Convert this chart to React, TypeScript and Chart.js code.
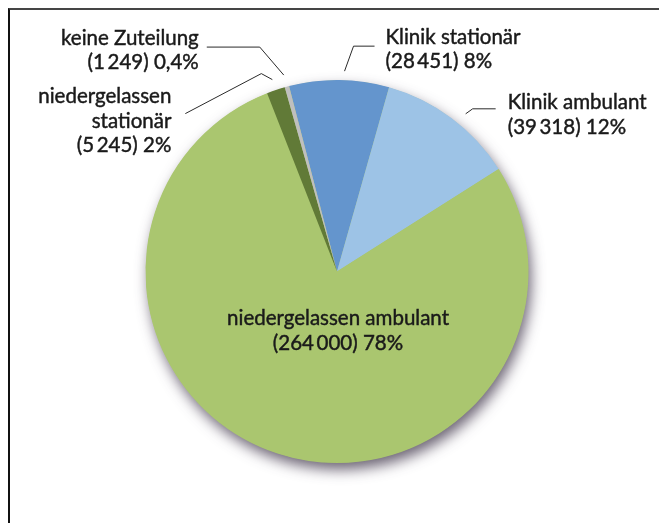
import React, { useEffect, useRef } from "react";
import { Chart, registerables } from "chart.js";

Chart.register(...registerables);

const categories = [
  "Klinik stationär",
  "Klinik ambulant",
  "niedergelassen ambulant",
  "niedergelassen stationär",
  "keine Zuteilung",
];
const counts = [28451, 39318, 264000, 5245, 1249];
const countLabels = ["28\u2009451", "39\u2009318", "264\u2009000", "5\u2009245", "1\u2009249"];
const percentLabels = ["8%", "12%", "78%", "2%", "0,4%"];
const nameLines = [
  ["Klinik stationär"],
  ["Klinik ambulant"],
  ["niedergelassen ambulant"],
  ["niedergelassen", "stationär"],
  ["keine Zuteilung"],
];
const colors = ["#6495cd", "#9dc3e6", "#aac66f", "#617a37", "#bfbfbf"];

type Layout = {
  kind: "leader" | "inside";
  at?: number;
  gap?: number;
  path?: number[][];
  align?: CanvasTextAlign;
  dx?: number;
  dy: number[];
};

const labelLayout: Layout[] = [
  { kind: "leader", at: 0.55, gap: 9, path: [[9, -25], [30, -25]], align: "left", dx: 11, dy: [-9, 15] },
  { kind: "leader", at: 0.56, gap: 12, path: [[7, -5], [30, -5]], align: "left", dx: 12, dy: [-6, 19] },
  { kind: "inside", dy: [47, 72] },
  { kind: "leader", at: 0.5, gap: 11, path: [[-11, -6], [-87, 34]], align: "right", dx: -14, dy: [-17, 8, 32] },
  { kind: "leader", at: 0.5, gap: 12, path: [[-24, -28], [-77, -28]], align: "right", dx: -8, dy: [-9, 15] },
];

const FONT = "20.5px Lato, 'Noto Sans', sans-serif";

const shadowPlugin = {
  id: "pieShadow",
  beforeDatasetsDraw(chart: any) {
    const arc = chart.getDatasetMeta(0).data[0];
    if (!arc) return;
    const { x, y, outerRadius } = arc.getProps(["x", "y", "outerRadius"], true);
    const ctx = chart.ctx;
    ctx.save();
    ctx.shadowColor = "rgba(70,60,80,0.8)";
    ctx.shadowBlur = 14;
    ctx.shadowOffsetX = 3;
    ctx.shadowOffsetY = 7;
    ctx.beginPath();
    ctx.arc(x, y, outerRadius - 0.5, 0, Math.PI * 2);
    ctx.fillStyle = colors[2];
    ctx.fill();
    ctx.restore();
  },
};

const labelPlugin = {
  id: "pieLabels",
  afterDatasetsDraw(chart: any) {
    const ctx = chart.ctx;
    const arcs = chart.getDatasetMeta(0).data;
    ctx.save();
    ctx.font = FONT;
    ctx.fillStyle = "#1a1a1a";
    ctx.textBaseline = "middle";
    const text = (t: string, tx: number, ty: number) => {
      ctx.lineWidth = 0.45;
      ctx.strokeStyle = "#1a1a1a";
      ctx.fillText(t, tx, ty);
      ctx.strokeText(t, tx, ty);
    };
    arcs.forEach((arc: any, i: number) => {
      const { x, y, startAngle, endAngle, outerRadius } = arc.getProps(
        ["x", "y", "startAngle", "endAngle", "outerRadius"],
        true
      );
      const lay = labelLayout[i];
      const lines = [...nameLines[i], `(${countLabels[i]}) ${percentLabels[i]}`];
      if (lay.kind === "inside") {
        ctx.textAlign = "center";
        lines.forEach((t, k) => text(t, x + 1, y + lay.dy[k]));
        return;
      }
      const a = startAngle + (endAngle - startAngle) * (lay.at ?? 0.5);
      const r = outerRadius + (lay.gap ?? 10);
      const sx = x + r * Math.cos(a);
      const sy = y + r * Math.sin(a);
      ctx.beginPath();
      ctx.strokeStyle = "#2a2a2a";
      ctx.lineWidth = 1;
      ctx.moveTo(sx, sy);
      let ex = sx;
      let ey = sy;
      (lay.path || []).forEach(([px, py]) => {
        ex = sx + px;
        ey = sy + py;
        ctx.lineTo(ex, ey);
      });
      ctx.stroke();
      ctx.textAlign = lay.align || "left";
      lines.forEach((t, k) => text(t, ex + (lay.dx || 0), ey + lay.dy[k]));
    });
    ctx.restore();
  },
};

export default function App() {
  const ref = useRef<HTMLCanvasElement>(null);
  useEffect(() => {
    if (!ref.current) return;
    const chart = new Chart(ref.current, {
      type: "pie",
      data: {
        labels: categories,
        datasets: [
          {
            data: counts,
            backgroundColor: colors,
            borderWidth: 0,
          },
        ],
      },
      options: {
        responsive: false,
        animation: false,
        rotation: -14.5,
        layout: { padding: { top: 80, bottom: 60, left: 100, right: 85 } },
        plugins: {
          legend: { display: false },
          tooltip: { enabled: false },
        },
      },
      plugins: [shadowPlugin, labelPlugin],
    });
    return () => chart.destroy();
  }, []);
  return (
    <>
      <div
        style={{
          position: "fixed",
          left: 8,
          top: 8,
          right: -20,
          bottom: -20,
          borderTop: "2px solid #454545",
          borderLeft: "2px solid #111",
          background: "#fff",
        }}
      />
      <canvas
        ref={ref}
        width={659}
        height={523}
        style={{ position: "fixed", left: 0, top: 0, width: 659, height: 523 }}
      />
    </>
  );
}
